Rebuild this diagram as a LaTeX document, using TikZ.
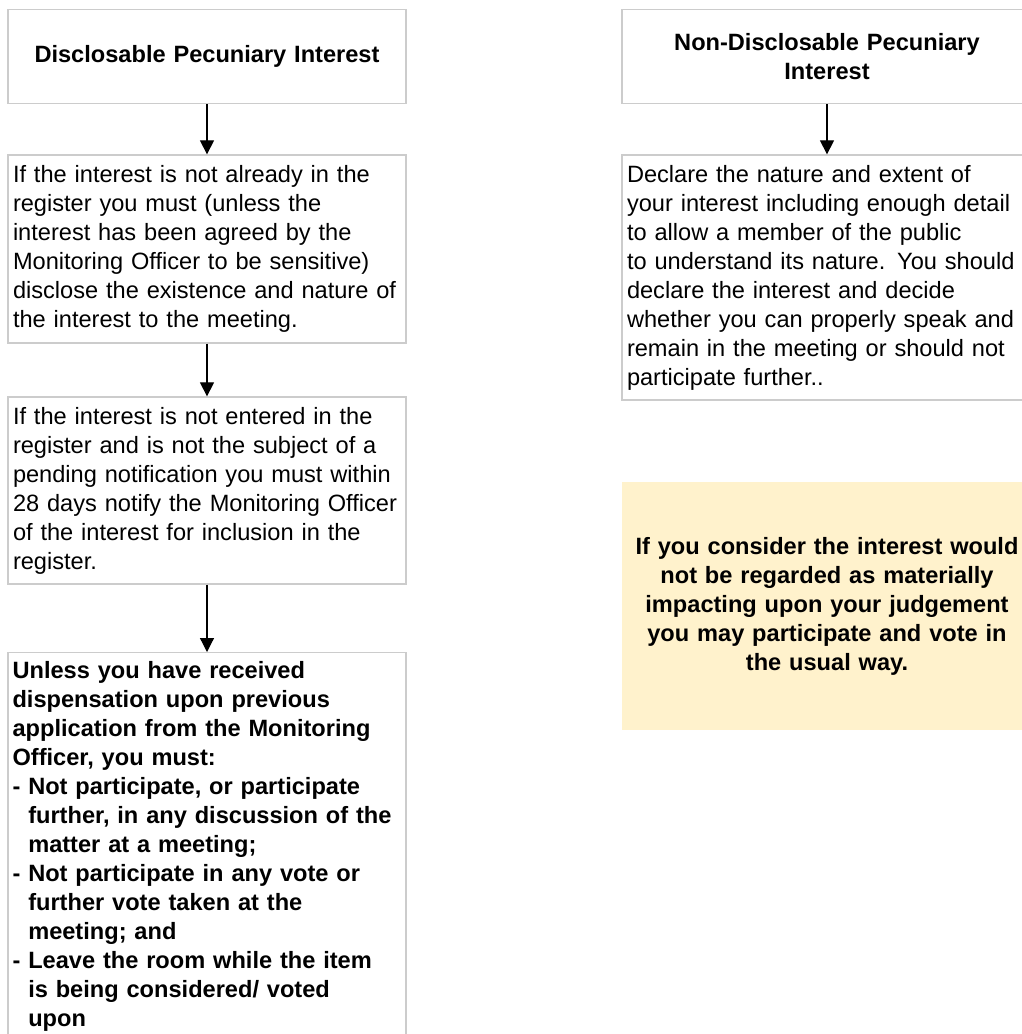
\documentclass[tikz,border=0pt]{standalone}
\usepackage{fontspec}
\setmainfont{Liberation Sans}
\usetikzlibrary{arrows.meta}

\definecolor{boxline}{RGB}{204,204,204}
\definecolor{notefill}{RGB}{255,242,204}
\newcommand{\boxfont}{\fontsize{23.6}{29}\selectfont}
\newcommand{\dashind}{\hphantom{- }}

\begin{document}
\begin{tikzpicture}[x=1pt,y=-1pt,
		box/.style={draw=boxline,line width=1.3pt,minimum width=398pt,text width=388pt,
			inner xsep=5pt,inner ysep=6pt,align=left,font=\boxfont},
		rbox/.style={box,minimum width=410pt,text width=400pt},
		title/.style={align=center,font=\boxfont\bfseries},
		plain/.style={inner xsep=5pt,inner ysep=9pt,text width=388pt,align=left,font=\boxfont\bfseries},
		note/.style={fill=notefill,minimum width=410pt,text width=400pt,inner xsep=5pt,
			align=center,font=\boxfont\bfseries},
		link/.style={line width=1.2pt,-{Triangle[width=14pt,length=14pt]}}]
		\useasboundingbox (0,0) rectangle (1021,1034);

		% left column
		\node[box,title,minimum height=94pt] (dpi) at (207,56.5) {Disclosable Pecuniary Interest};
		\node[box,minimum height=188pt] (disclose) at (207,249) {If the interest is not already in the\\
			register you must (unless the\\
			interest has been agreed by the\\
			Monitoring Officer to be sensitive)\\
			disclose the existence and nature of\\
			the interest to the meeting.};
		\node[box,minimum height=187pt] (notify) at (207,490.5) {If the interest is not entered in the\\
			register and is not the subject of a\\
			pending notification you must within\\
			28 days notify the Monitoring Officer\\
			of the interest for inclusion in the\\
			register.};
		\node[box,minimum height=420pt,anchor=north] (must) at (207,652) {};
		\node[plain,anchor=north west] (musttext) at (must.north west) {Unless you have received\\
			dispensation upon previous\\
			application from the Monitoring\\
			Officer, you must:\\
			- Not participate, or participate\\
			\dashind further, in any discussion of the\\
			\dashind matter at a meeting;\\
			- Not participate in any vote or\\
			\dashind further vote taken at the\\
			\dashind meeting; and\\
			- Leave the room while the item\\
			\dashind is being considered/ voted\\
			\dashind upon};

		\draw[link] (dpi) -- (disclose);
		\draw[link] (disclose) -- (notify);
		\draw[link] (notify) -- (must);

		% right column
		\node[rbox,title,minimum height=94pt] (ndpi) at (827,56.5) {Non-Disclosable Pecuniary\\Interest};
		\node[rbox,minimum height=245pt] (declare) at (827,277.5) {Declare the nature and extent of\\
			your interest including enough detail\\
			to allow a member of the public\\
			to understand its nature. You should\\
			declare the interest and decide\\
			whether you can properly speak and\\
			remain in the meeting or should not\\
			participate further..};
		\node[note,minimum height=248pt] (vote) at (827,606) {If you consider the interest would\\
			not be regarded as materially\\
			impacting upon your judgement\\
			you may participate and vote in\\
			the usual way.};

		\draw[link] (ndpi) -- (declare);
	\end{tikzpicture}
\end{document}
